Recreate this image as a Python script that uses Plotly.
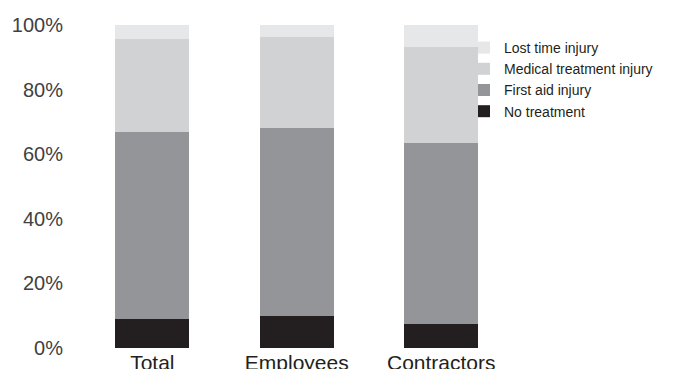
import plotly.graph_objects as go

categories = ["Total", "Employees", "Contractors"]
no_treatment = [9.0, 9.9, 7.4]
first_aid = [57.9, 58.2, 56.0]
medical_treatment = [28.8, 28.2, 29.7]
lost_time = [4.3, 3.7, 7.1]
y_tick_values = [0, 20, 40, 60, 80, 100]
y_tick_labels = ["0%", "20%", "40%", "60%", "80%", "100%"]

series_names = ["No treatment", "First aid injury", "Medical treatment injury", "Lost time injury"]
series_values = [no_treatment, first_aid, medical_treatment, lost_time]
colors = ["#231f20", "#939598", "#d1d2d4", "#e6e7e8"]

fig = go.Figure()
for name, vals, col in zip(series_names, series_values, colors):
    fig.add_trace(go.Bar(x=categories, y=vals, name=name, marker=dict(color=col, line=dict(width=0)),
                         width=0.51))

L, R, T, B = 65, 8, 17, 29
W, H = 685, 369
PW, PH = W - L - R, H - T - B
fig.update_layout(
    width=W, height=H,
    barmode="stack",
    plot_bgcolor="white", paper_bgcolor="white",
    margin=dict(l=L, r=R, t=T, b=B, autoexpand=False),
    font=dict(family="Liberation Sans, Arial, sans-serif", color="#414042"),
    xaxis=dict(range=[-0.549, 3.6875], showgrid=False, zeroline=False, showline=False,
               ticks="", tickangle=0, automargin=False,
               tickfont=dict(size=21, color="#231f20")),
    yaxis=dict(range=[0, 100], tickmode="array", tickvals=y_tick_values, ticktext=y_tick_labels,
               showgrid=False, zeroline=False, showline=False, ticks="", automargin=False,
               ticklabelstandoff=9,
               tickfont=dict(size=20, color="#414042")),
    legend=dict(traceorder="reversed",
                x=(456 - L) / PW, y=1 - (24 - T) / PH, xanchor="left", yanchor="top",
                font=dict(size=14, color="#231f20"), bgcolor="rgba(0,0,0,0)"),
    showlegend=True,
)

fig.write_html("out.html")
